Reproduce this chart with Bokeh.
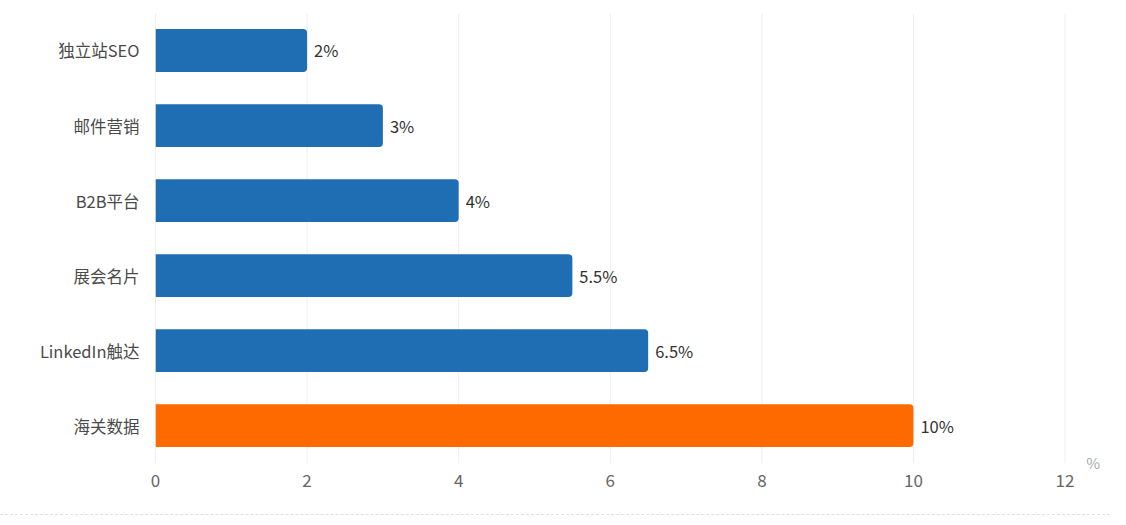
from bokeh.plotting import figure
from bokeh.models import ColumnDataSource, Range1d, FixedTicker, Label, Div
from bokeh.layouts import column
from bokeh.embed import file_html
from bokeh.resources import INLINE
from bokeh.core.properties import value

categories = ["独立站SEO", "邮件营销", "B2B平台", "展会名片", "LinkedIn触达", "海关数据"]
values = [2, 3, 4, 5.5, 6.5, 10]
value_labels = ["2%", "3%", "4%", "5.5%", "6.5%", "10%"]
bar_colors = ["#1f6db3", "#1f6db3", "#1f6db3", "#1f6db3", "#1f6db3", "#ff6a00"]
x_ticks = [0, 2, 4, 6, 8, 10, 12]
unit_label = "%"

FONT = "Noto Sans CJK SC"

n = len(categories)
ypos = [n - 1 - i for i in range(n)]  # first category on top

src = ColumnDataSource(dict(y=ypos, cat=categories, val=values, lab=value_labels, col=bar_colors))

H = 509
Y_TOP = 5.493
Y_BOTTOM = -0.61
p = figure(
    width=1110, height=H,
    y_range=Range1d(Y_BOTTOM, Y_TOP),
    x_range=Range1d(0, 12.6),
    output_backend="svg", toolbar_location=None,
    min_border_left=155, min_border_right=0, min_border_top=13, min_border_bottom=H - 471,
)
p.outline_line_color = None
p.background_fill_color = "white"
p.xgrid.grid_line_color = None
p.ygrid.grid_line_color = None

# vertical grid lines and left axis line (stop at the bottom of the category band)
grid_src = ColumnDataSource(dict(x=x_ticks,
                                 col=["#dddddd"] + ["#eeeeee"] * (len(x_ticks) - 1)))
p.segment(x0="x", x1="x", y0=-0.5, y1=Y_TOP, line_color="col", line_width=1, source=grid_src)

p.hbar(y="y", left=0, right="val", height=0.57, color="col", source=src,
       line_color=None, border_radius=(0, 4, 4, 0))

p.text(x="val", y="y", text="lab", source=src, x_offset=7,
       text_baseline="middle", text_align="left", text_color="#333333",
       text_font=value(FONT), text_font_size="16.5px")

# axes
p.xaxis.ticker = FixedTicker(ticks=x_ticks)
p.xaxis.axis_line_color = None
p.xaxis.major_tick_line_color = None
p.xaxis.minor_tick_line_color = None
p.xaxis.major_label_text_color = "#666666"
p.xaxis.major_label_text_font = FONT
p.xaxis.major_label_text_font_size = "17px"
p.xaxis.major_label_standoff = -4

p.yaxis.ticker = FixedTicker(ticks=ypos)
p.yaxis.major_label_overrides = {y: c for y, c in zip(ypos, categories)}
p.yaxis.axis_line_color = None
p.yaxis.major_tick_line_color = None
p.yaxis.minor_tick_line_color = None
p.yaxis.major_label_text_color = "#4a4a4a"
p.yaxis.major_label_text_font = FONT
p.yaxis.major_label_text_font_size = "16.5px"
p.yaxis.major_label_standoff = 10

p.add_layout(Label(x=12.37, y=-0.49, text=unit_label, text_color="#aaaaaa",
                   text_font=FONT, text_font_size="15px",
                   text_align="center", text_baseline="middle"))

sep = Div(text="", width=1110, height=6, margin=(0, 0, 0, 0),
          styles={"border-bottom": "1px dashed #e0e0e0", "width": "1110px"})

layout = column(p, sep, spacing=0)

open("out.html", "w").write(file_html(layout, INLINE))
